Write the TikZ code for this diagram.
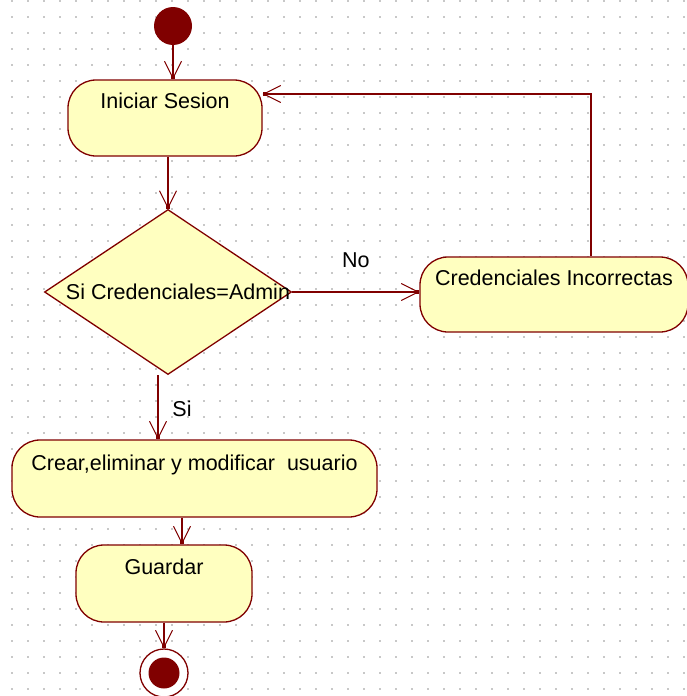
\documentclass[tikz,border=0pt]{standalone}
\usepackage{fontspec}
\setmainfont{Liberation Sans}
\usetikzlibrary{arrows.meta,shapes.geometric}
\definecolor{dred}{RGB}{128,0,0}
\definecolor{byellow}{RGB}{255,255,192}
\definecolor{dotc}{RGB}{200,200,200}
\tikzset{
  txt/.style={font=\fontsize{21.5}{25}\selectfont, text=black},
  actbox/.style={draw=dred, fill=byellow, line width=1.3pt, rounded corners=28pt,
    inner sep=0pt, text height=28.5pt, txt},
  conn/.style={draw=dred, line width=1.3pt,
    -{Straight Barb[length=17pt,width=17pt,line width=1pt,sep=-4pt] Square[length=4pt,width=4pt]}},
}
\begin{document}
\begin{tikzpicture}[x=1pt,y=-1pt]
\useasboundingbox (0,0) rectangle (687,696);
\fill[white] (0,0) rectangle (687,696);
\foreach \i in {0,...,42}{
  \foreach \j in {0,...,43}{
    \fill[dotc] ({12+16*\i-1},{1+16*\j-1}) rectangle +(2,2);
  }
}
\node[circle, fill=dred, minimum size=38pt, inner sep=0pt] (st) at (173,26) {};
\node[actbox, minimum width=194pt, text depth=47.5pt] (ini) at (165,118) {Iniciar Sesion};
\node[diamond, draw=dred, fill=byellow, line width=1.3pt, minimum width=247pt, minimum height=165pt, inner sep=0pt,
  label={[txt, xshift=10pt]center:Si Credenciales=Admin}] (dia) at (168,292) {};
\node[actbox, minimum width=268pt, text depth=46.5pt] (cred) at (554,294.5) {Credenciales Incorrectas};
\node[actbox, minimum width=365pt, text height=30.5pt, text depth=46.5pt] (cre) at (194.5,478.5) {Crear,eliminar y modificar\ \ usuario};
\node[actbox, minimum width=176pt, text height=29.5pt, text depth=47.5pt] (gua) at (164,583.5) {Guardar};
\node[circle, draw=dred, line width=1.3pt, fill=white, minimum size=48pt, inner sep=0pt] (fin) at (164,673) {};
\node[circle, fill=dred, minimum size=31pt, inner sep=0pt] (finin) at (fin.center) {};

\draw[conn] (st) -- (st |- ini.north);
\draw[conn] (dia.north |- ini.south) -- (dia.north);
\draw[conn] (dia.east) -- node[txt, midway, yshift=32pt] (no) {No} (dia.east -| cred.west);
\draw[conn] ([xshift=37pt]cred.north) |- ([yshift=24pt]ini.east);
\draw[conn] ([xshift=-10pt]dia.south) -- node[txt, midway, xshift=24pt, yshift=-1.5pt] (si) {Si} ([xshift=-10pt]dia.south |- cre.north);
\draw[conn] ([xshift=-12.5pt]cre.south) -- ([xshift=-12.5pt]cre.south |- gua.north);
\draw[conn] (gua.south) -- (fin.north);
\end{tikzpicture}
\end{document}
